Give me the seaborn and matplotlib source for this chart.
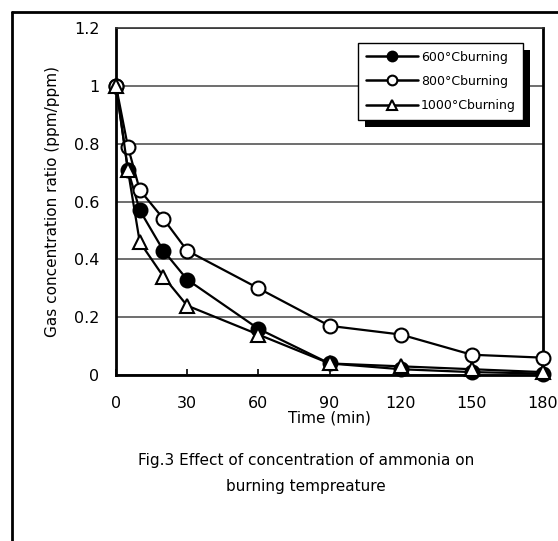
import matplotlib
matplotlib.use("Agg")
import matplotlib.pyplot as plt
import seaborn as sns
import pandas as pd
from matplotlib.lines import Line2D
from matplotlib.patches import Rectangle
from matplotlib.transforms import IdentityTransform

time_min = [0, 5, 10, 20, 30, 60, 90, 120, 150, 180]
ratio_600 = [1.0, 0.71, 0.57, 0.43, 0.33, 0.16, 0.04, 0.02, 0.01, 0.005]
ratio_800 = [1.0, 0.79, 0.64, 0.54, 0.43, 0.30, 0.17, 0.14, 0.07, 0.06]
ratio_1000 = [1.0, 0.71, 0.46, 0.34, 0.24, 0.14, 0.04, 0.03, 0.02, 0.01]
labels = ["600°Cburning", "800°Cburning", "1000°Cburning"]
x_ticks = [0, 30, 60, 90, 120, 150, 180]
y_ticks = [0, 0.2, 0.4, 0.6, 0.8, 1.0, 1.2]
y_ticklabels = ["0", "0.2", "0.4", "0.6", "0.8", "1", "1.2"]

sns.set_style("white")
plt.rcParams['font.family'] = ['DejaVu Sans']
plt.rcParams['text.color'] = 'black'
plt.rcParams['axes.labelcolor'] = 'black'
plt.rcParams['xtick.color'] = 'black'
plt.rcParams['ytick.color'] = 'black'

fig = plt.figure(figsize=(5.58, 5.41), dpi=100)
ax = fig.add_axes([116/558, 1-375/541, (543-116)/558, (375-28)/541])

series = [
    (ratio_600, "o", "black"),
    (ratio_800, "o", "white"),
    (ratio_1000, "^", "white"),
]
for (vals, mk, fc), lab in zip(series, labels):
    df = pd.DataFrame({"t": time_min, "r": vals})
    sns.lineplot(data=df, x="t", y="r", ax=ax, color="black", lw=1.6,
                 marker=mk, markersize=10, markerfacecolor=fc,
                 markeredgecolor="black", markeredgewidth=1.5, label=lab,
                 clip_on=False, zorder=3)

ax.set_xlim(0, 180)
ax.set_ylim(0, 1.2)
ax.set_xticks(x_ticks)
ax.set_yticks(y_ticks)
ax.set_yticklabels(y_ticklabels)
ax.yaxis.grid(True, color="#555555", lw=1.2)
ax.xaxis.grid(False)
for s in ["left", "bottom", "right"]:
    ax.spines[s].set_color("black")
    ax.spines[s].set_linewidth(2)
ax.spines["top"].set_color("#333333")
ax.spines["top"].set_linewidth(1.2)
ax.tick_params(axis="x", direction="in", length=4, width=1.2, bottom=True,
               labelsize=11.5, pad=15, colors="black")
ax.tick_params(axis="y", length=0, labelsize=11.5, pad=12, colors="black")
ax.set_xlabel("Time (min)", fontsize=11, labelpad=0)
ax.set_ylabel("Gas concentration ratio (ppm/ppm)", fontsize=11, labelpad=10)

leg = ax.legend(loc="upper right", bbox_to_anchor=((523-116)/427, (375-43)/347),
                bbox_transform=ax.transAxes, frameon=True, fancybox=False,
                shadow=False, fontsize=9, borderaxespad=0,
                handlelength=4.2, borderpad=0.6, labelspacing=0.9,
                handletextpad=0.2, edgecolor="black", framealpha=1)
leg.get_frame().set_linewidth(1.0)
leg.set_zorder(6)
for h in leg.legend_handles:
    h.set_markersize(7)
    h.set_linewidth(1.8)

fig.text(306/558, 1-461/541, "Fig.3 Effect of concentration of ammonia on",
         ha="center", va="center", fontsize=11)
fig.text(306/558, 1-487/541, "burning tempreature",
         ha="center", va="center", fontsize=11)

fig.add_artist(Line2D([12/558, 12/558], [0, 1-12/541], transform=fig.transFigure,
                      color="black", lw=2))
fig.add_artist(Line2D([12/558, 1], [1-12/541, 1-12/541], transform=fig.transFigure,
                      color="black", lw=2))

fig.canvas.draw()
bb = leg.get_window_extent()
shadow = Rectangle((bb.x0 + 7, bb.y0 - 7), bb.width, bb.height,
                   transform=IdentityTransform(), facecolor="black",
                   edgecolor="none", zorder=5, clip_on=False)
ax.add_patch(shadow)

fig.savefig("out.png", dpi=100)
